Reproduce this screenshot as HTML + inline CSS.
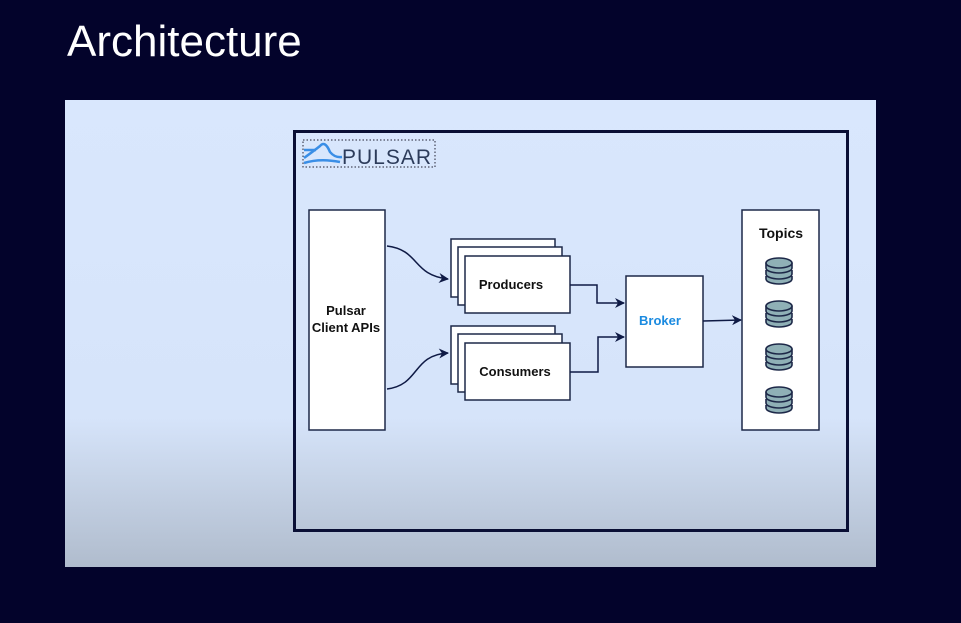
<!DOCTYPE html>
<html><head><style>
body{margin:0;width:961px;height:623px;background:#03032b;overflow:hidden;font-family:"Liberation Sans",sans-serif;position:relative}
.t{position:absolute;left:67px;top:17px;color:#fff;font-size:44px}
.p{position:absolute;left:65px;top:100px;width:811px;height:467px;background:linear-gradient(to bottom,#d9e7fd 0%,#d6e4fa 68%,#b0bccd 100%)}
</style></head><body>
<div class="t">Architecture</div>
<div class="p"></div>
<svg width="961" height="623" style="position:absolute;left:0;top:0" font-family="Liberation Sans, sans-serif" font-weight="bold">
<defs><marker id="a" markerWidth="10" markerHeight="10" refX="9" refY="5" orient="auto" markerUnits="userSpaceOnUse"><path d="M0,0 L10,5 L0,10 L3,5z" fill="#0f1a45"/></marker></defs>
<rect x="294.5" y="131.5" width="553" height="399" fill="none" stroke="#0a0f35" stroke-width="3"/>
<rect x="303" y="140" width="132" height="27" fill="none" stroke="#223" stroke-width="1" stroke-dasharray="1.5,2"/>
<path d="M304,158 Q315,150 320,146 Q325,140 330,152 Q335,158 342,157" fill="none" stroke="#3a8ee6" stroke-width="2.5"/>
<path d="M304,150 L316,150 M304,163 Q320,158 340,162" fill="none" stroke="#3a8ee6" stroke-width="2.5"/>
<text x="342" y="164" font-size="21" font-weight="normal" fill="#2c3b5a" letter-spacing="1">PULSAR</text>
<g stroke="#1d2848" stroke-width="1.5" fill="#fff">
<rect x="309" y="210" width="76" height="220"/>
<rect x="451" y="239" width="104" height="58"/><rect x="458" y="247" width="104" height="58"/><rect x="465" y="256" width="105" height="57"/>
<rect x="451" y="326" width="104" height="58"/><rect x="458" y="334" width="104" height="58"/><rect x="465" y="343" width="105" height="57"/>
<rect x="626" y="276" width="77" height="91"/>
<rect x="742" y="210" width="77" height="220"/>
</g>
<g fill="none" stroke="#0f1a45" stroke-width="1.5">
<path d="M387,246 C420,250 412,275 448,279" marker-end="url(#a)"/>
<path d="M387,389 C420,385 412,355 448,353" marker-end="url(#a)"/>
<path d="M570,285 H597 V303 H624" marker-end="url(#a)"/>
<path d="M570,372 H598 V337 H624" marker-end="url(#a)"/>
<path d="M703,321 L741,320" marker-end="url(#a)"/>
</g>
<text x="346" y="315" font-size="13" text-anchor="middle" fill="#111">Pulsar</text>
<text x="346" y="332" font-size="13" text-anchor="middle" fill="#111">Client APIs</text>
<text x="511" y="289" font-size="13" text-anchor="middle" fill="#111">Producers</text>
<text x="515" y="376" font-size="13" text-anchor="middle" fill="#111">Consumers</text>
<text x="660" y="325" font-size="13" text-anchor="middle" fill="#1a8ae0">Broker</text>
<text x="781" y="238" font-size="14" text-anchor="middle" fill="#111">Topics</text>
<g fill="#8fb0b6" stroke="#1d2848" stroke-width="1.6">
<g id="c"><path d="M766,276 v3 a13,5 0 0 0 26,0 v-3"/><path d="M766,270 v4 a13,5 0 0 0 26,0 v-4"/><path d="M766,263 v5 a13,5 0 0 0 26,0 v-5"/><ellipse cx="779" cy="263" rx="13" ry="5"/></g>
<use href="#c" y="43"/><use href="#c" y="86"/><use href="#c" y="129"/>
</g>
</svg>
</body></html>
